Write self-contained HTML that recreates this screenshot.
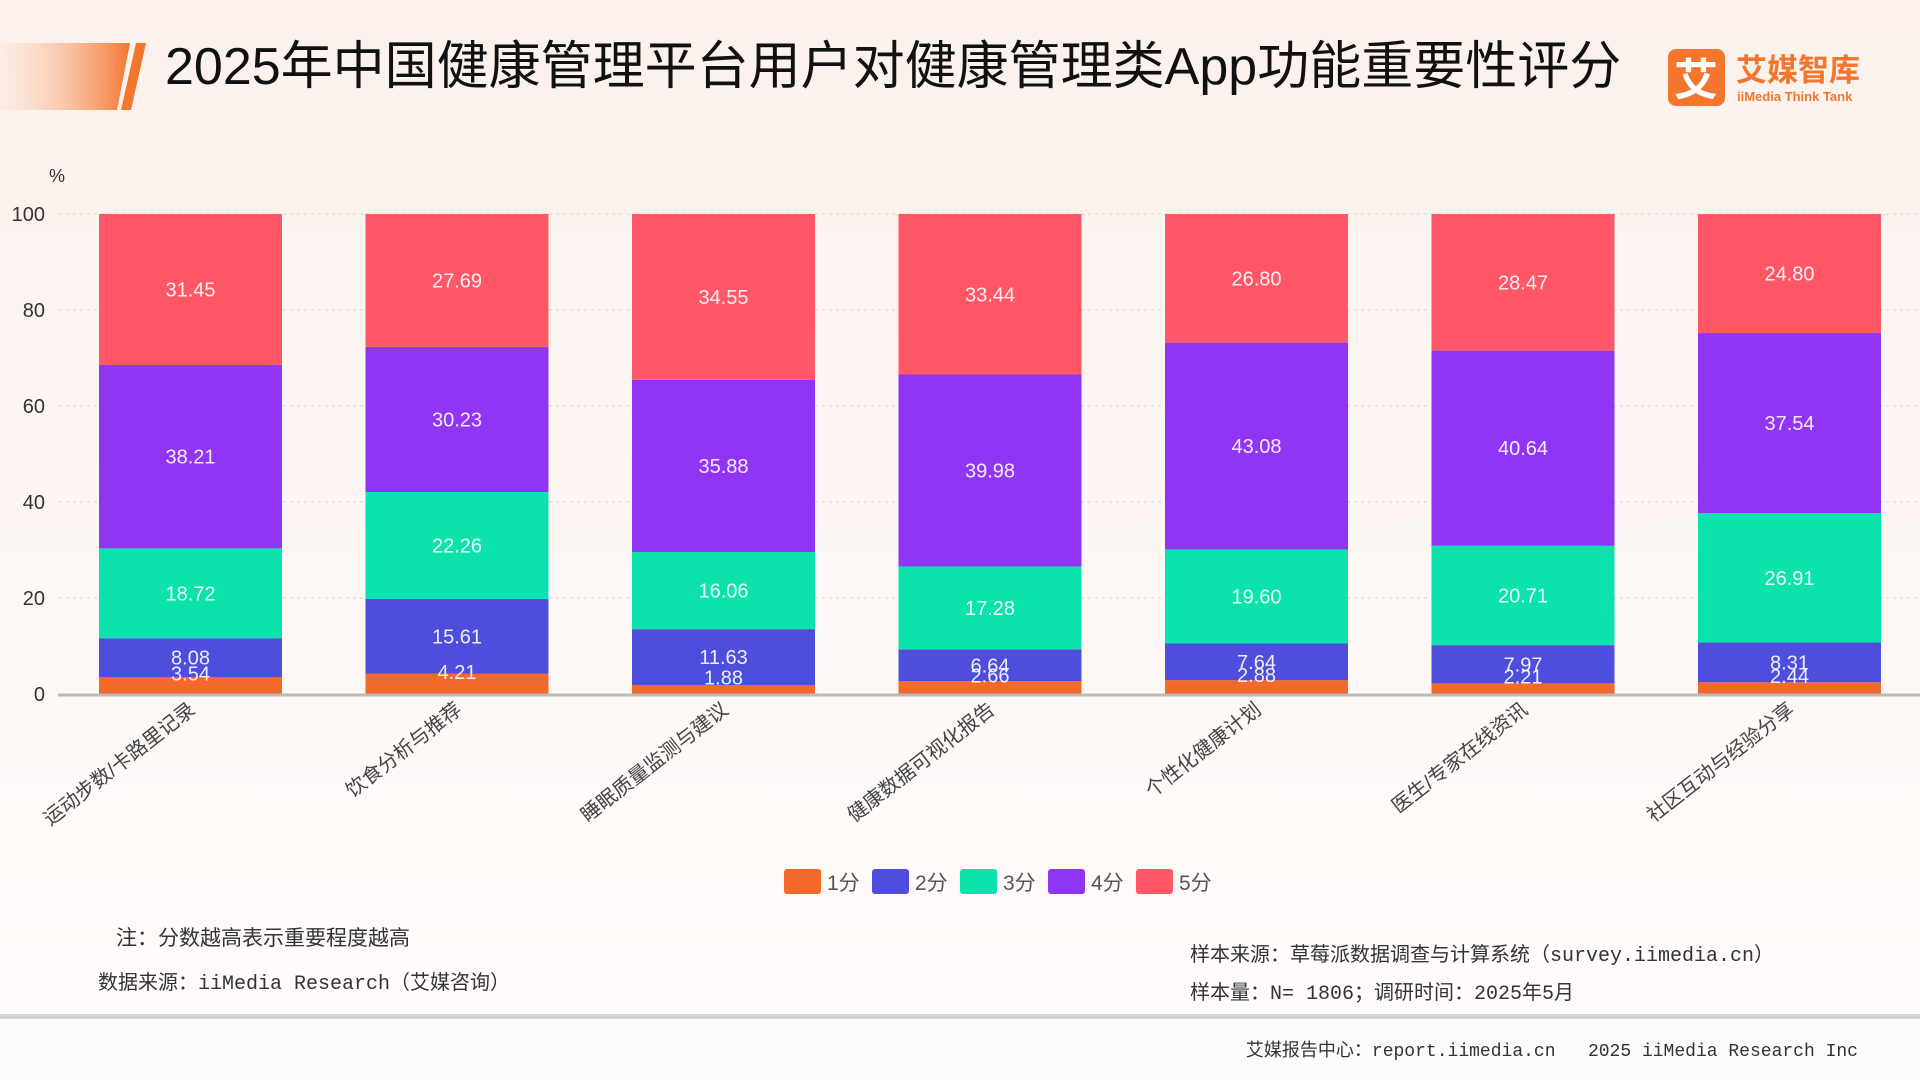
<!DOCTYPE html>
<html><head><meta charset="utf-8"><style>
html,body{margin:0;padding:0;width:1920px;height:1080px;overflow:hidden;background:#fdf7f4;}
svg{display:block;font-family:"Liberation Sans","Noto Sans CJK SC",sans-serif;}
.mono{font-family:"Liberation Mono","Noto Sans CJK SC",monospace;}
</style></head><body>
<svg id="chart" width="1920" height="1080" viewBox="0 0 1920 1080">
<defs>
<linearGradient id="bg" x1="0" y1="0" x2="0" y2="1"><stop offset="0" stop-color="#fcf1ec"/><stop offset="0.6" stop-color="#fdf8f6"/><stop offset="1" stop-color="#fefcfb"/></linearGradient>
<linearGradient id="stripe" x1="0" y1="0" x2="1" y2="0"><stop offset="0" stop-color="#fde3d6" stop-opacity="0.3"/><stop offset="1" stop-color="#f3762f"/></linearGradient>
</defs>
<rect width="1920" height="1080" fill="url(#bg)"/>
<polygon points="0,43 130,43 117,110 0,110" fill="url(#stripe)"/>
<polygon points="136,43 146,43 131,110 121,110" fill="#f3762f"/>
<text x="165" y="84" font-size="52" fill="#111">2025年中国健康管理平台用户对健康管理类App功能重要性评分</text>
<g>
<rect x="1668" y="49" width="57" height="57" rx="8" fill="#f3762f"/>
<text x="1696" y="95" font-size="44" font-weight="bold" fill="#fff" text-anchor="middle">艾</text>
<text x="1736" y="81" font-size="31" font-weight="bold" fill="#f3762f">艾媒智库</text>
<text x="1737" y="101" font-size="13" font-weight="bold" fill="#f3762f">iiMedia Think Tank</text>
</g>
<g id="plot"></g>
<g id="legend"></g>
<text class="mono" x="116" y="945" font-size="21" fill="#333">注：分数越高表示重要程度越高</text>
<text class="mono" x="98" y="989" font-size="20" fill="#333">数据来源：iiMedia Research（艾媒咨询）</text>
<text class="mono" x="1190" y="961" font-size="20" fill="#333">样本来源：草莓派数据调查与计算系统（survey.iimedia.cn）</text>
<text class="mono" x="1190" y="999" font-size="20" fill="#333">样本量：N= 1806；调研时间：2025年5月</text>
<rect x="0" y="1014" width="1920" height="5" fill="#d4d2d2"/>
<text class="mono" x="1858" y="1056" font-size="18" fill="#333" text-anchor="end" xml:space="preserve">艾媒报告中心：report.iimedia.cn   2025 iiMedia Research Inc</text>
</svg>
<script>
const categories=["运动步数/卡路里记录","饮食分析与推荐","睡眠质量监测与建议","健康数据可视化报告","个性化健康计划","医生/专家在线资讯","社区互动与经验分享"];
const seriesNames=["1分","2分","3分","4分","5分"];
const score1=[3.54,4.21,1.88,2.66,2.88,2.21,2.44];
const score2=[8.08,15.61,11.63,6.64,7.64,7.97,8.31];
const score3=[18.72,22.26,16.06,17.28,19.60,20.71,26.91];
const score4=[38.21,30.23,35.88,39.98,43.08,40.64,37.54];
const score5=[31.45,27.69,34.55,33.44,26.80,28.47,24.80];
const yTicks=[0,20,40,60,80,100];
const colors=["#f4692a","#4f4ddb","#0ce3ac","#9135f5","#ff5766"];
const series=[score1,score2,score3,score4,score5];
const NS="http://www.w3.org/2000/svg";
const plot=document.getElementById('plot');
const y0=694,y100=214,xStart=190.5,xStep=266.5,bw=183;
function yScale(v){return y0-(y0-y100)*v/100;}
function xScale(i){return xStart+i*xStep;}
function mk(tag,attrs,parent){const e=document.createElementNS(NS,tag);for(const k in attrs)e.setAttribute(k,attrs[k]);parent.appendChild(e);return e;}
yTicks.forEach(t=>{
  if(t>0){const g=mk('line',{x1:59,x2:1920,y1:yScale(t),y2:yScale(t),stroke:'#e6dcdc','stroke-width':1.5,'stroke-dasharray':'3 4'},plot);
  
  }
  const l=mk('text',{x:45,y:yScale(t)+7,'font-size':20,fill:'#333','text-anchor':'end'},plot);
  l.textContent=t;
  
  
});
const pct=mk('text',{x:57,y:182,'font-size':18,fill:'#333','text-anchor':'middle'},plot);
pct.textContent='%';


const labelLayer=document.createElementNS(NS,'g');
categories.forEach((c,i)=>{
  let acc=0;const cx=xScale(i);
  series.forEach((s,k)=>{
    const v=s[i];const top=yScale(acc+v),bot=yScale(acc);
    const r=mk('rect',{x:cx-bw/2,y:top,width:bw,height:bot-top,fill:colors[k]},plot);
    
    
    const off=k===0?-12:0;
    const t=mk('text',{x:cx,y:(top+bot)/2+7+off,'font-size':20,fill:'#fff','fill-opacity':0.9,'text-anchor':'middle'},labelLayer);
    t.textContent=v.toFixed(2);
    
    
    acc+=v;
  });
  const cl=mk('text',{x:cx+6,y:712,'font-size':20,fill:'#444','text-anchor':'end',transform:'rotate(-38 '+(cx+6)+' 712)'},plot);
  cl.textContent=c;
  
  
});
const ax=mk('line',{x1:58,x2:1920,y1:y0+1,y2:y0+1,stroke:'#bbb','stroke-width':3},plot);


plot.appendChild(labelLayer);


const leg=document.getElementById('legend');
seriesNames.forEach((n,k)=>{
  const x=784+k*88;
  const r=mk('rect',{x:x,y:869,width:37,height:25,rx:3,fill:colors[k]},leg);
  
  
  const t=mk('text',{x:x+43,y:890,'font-size':21,fill:'#555'},leg);
  t.textContent=n;
  
  
});
</script>
</body></html>
